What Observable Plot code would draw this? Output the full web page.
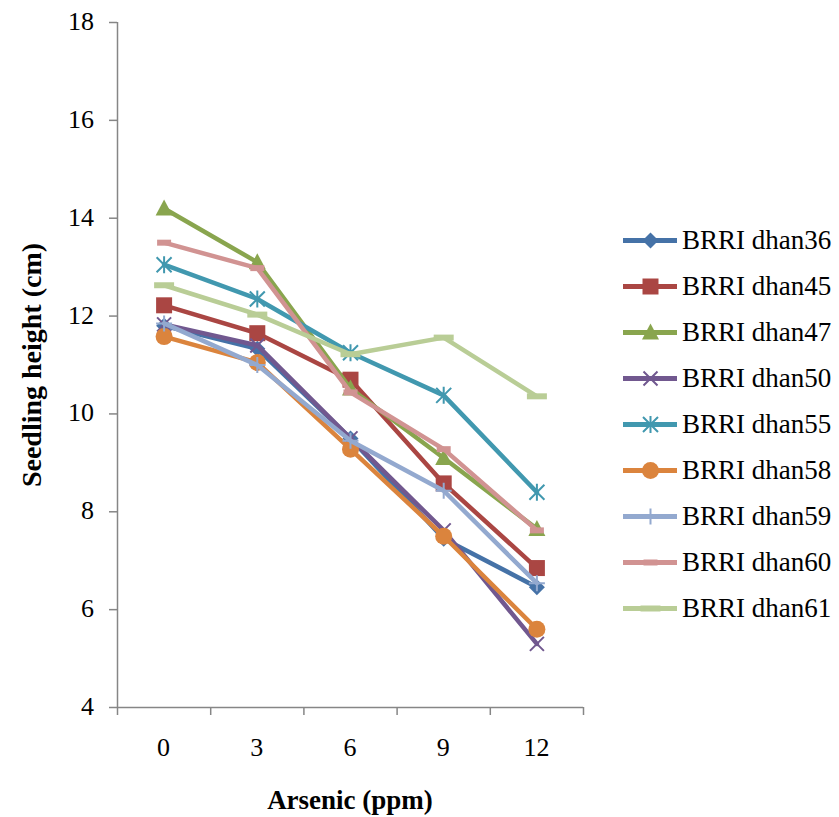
<!DOCTYPE html>
<html>
<head>
<meta charset="utf-8">
<script src="https://cdn.jsdelivr.net/npm/d3@7"></script>
<script src="https://cdn.jsdelivr.net/npm/@observablehq/plot@0.6"></script>
<style>
  html, body { margin: 0; padding: 0; background: #fff; font-family: 'Liberation Serif'; }
  #wrap { position: relative; width: 839px; height: 817px; font-family: 'Liberation Serif'; color: #000; }
  #legend { position: absolute; left: 600px; top: 210px; }
  .lbl { position: absolute; white-space: nowrap; line-height: 30px; height: 30px; font-family: 'Liberation Serif'; }
  .tick { font-size: 26px; }
  .legendLbl { font-size: 27px; }
  .title { font-weight: bold; }
</style>
</head>
<body>
<div id="wrap"><div id="chart"></div><div id="legend"></div></div>
<script>
// ---- data ----
const categories = [0, 3, 6, 9, 12];
const seriesNames = ["BRRI dhan36", "BRRI dhan45", "BRRI dhan47", "BRRI dhan50", "BRRI dhan55",
                     "BRRI dhan58", "BRRI dhan59", "BRRI dhan60", "BRRI dhan61"];
const dhan36 = [11.80, 11.33, 9.50, 7.45, 6.46];
const dhan45 = [12.22, 11.65, 10.70, 8.58, 6.85];
const dhan47 = [14.20, 13.10, 10.52, 9.10, 7.65];
const dhan50 = [11.83, 11.40, 9.50, 7.62, 5.30];
const dhan55 = [13.05, 12.35, 11.25, 10.38, 8.40];
const dhan58 = [11.58, 11.05, 9.28, 7.50, 5.60];
const dhan59 = [11.85, 11.00, 9.45, 8.43, 6.54];
const dhan60 = [13.50, 12.98, 10.44, 9.28, 7.62];
const dhan61 = [12.63, 12.03, 11.22, 11.56, 10.36];
const seriesValues = [dhan36, dhan45, dhan47, dhan50, dhan55, dhan58, dhan59, dhan60, dhan61];
const yTicks = [4, 6, 8, 10, 12, 14, 16, 18];
const xTitle = "Arsenic (ppm)";
const yTitle = "Seedling height (cm)";

// ---- styles ----
const seriesColors = ["#4572A7", "#AA4643", "#89A54E", "#71588F", "#4198AF",
                      "#DB843D", "#93A9CF", "#D19392", "#B9CD96"];
const markerKinds = ["diamond", "square", "triangle", "times", "asterisk",
                     "circle", "plus", "dashShort", "dashLong"];
const axisColor = "#868686";

const symbols = {
  diamond: {draw(c) { const r = 8; c.moveTo(0, -r); c.lineTo(r, 0); c.lineTo(0, r); c.lineTo(-r, 0); c.closePath(); }},
  square: {draw(c) { const r = 8; c.rect(-r, -r, 2 * r, 2 * r); }},
  triangle: {draw(c) { c.moveTo(0, -9); c.lineTo(8.5, 7); c.lineTo(-8.5, 7); c.closePath(); }},
  circle: {draw(c) { const r = 8.5; c.moveTo(r, 0); c.arc(0, 0, r, 0, 2 * Math.PI); }},
  times: {draw(c) { const r = 7; c.moveTo(-r, -r); c.lineTo(r, r); c.moveTo(-r, r); c.lineTo(r, -r); }},
  asterisk: {draw(c) { const r = 7.5; c.moveTo(-r, -r); c.lineTo(r, r); c.moveTo(-r, r); c.lineTo(r, -r); c.moveTo(0, -r - 1); c.lineTo(0, r + 1); }},
  plus: {draw(c) { const r = 8; c.moveTo(0, -r); c.lineTo(0, r); c.moveTo(-r, 0); c.lineTo(r, 0); }},
  dashShort: {draw(c) { c.rect(-7, -3, 14, 6); }},
  dashLong: {draw(c) { c.rect(-10, -3, 20, 6); }}
};
const strokeKinds = new Set(["times", "asterisk", "plus"]);

const rows = [];
seriesNames.forEach((name, i) => {
  categories.forEach((c, j) => rows.push({series: name, idx: i, x: c, y: seriesValues[i][j]}));
});

const step = categories[1] - categories[0];
const xDomain = [categories[0] - step / 2, categories[categories.length - 1] + step / 2];
const edges = [...categories.map(c => c - step / 2), xDomain[1]];

const seriesMarks = [];
seriesNames.forEach((name, i) => {
  const data = rows.filter(r => r.idx === i);
  const col = seriesColors[i];
  const kind = markerKinds[i];
  seriesMarks.push(Plot.line(data, {x: "x", y: "y", stroke: col, strokeWidth: 4.5, strokeLinejoin: "round", strokeLinecap: "round"}));
  if (strokeKinds.has(kind)) {
    seriesMarks.push(Plot.dot(data, {x: "x", y: "y", symbol: symbols[kind], r: 8, fill: "none", stroke: col, strokeWidth: 2}));
  } else {
    seriesMarks.push(Plot.dot(data, {x: "x", y: "y", symbol: symbols[kind], r: 8, fill: col, stroke: "none"}));
  }
});

const chart = Plot.plot({
  width: 839,
  height: 817,
  marginLeft: 117,
  marginRight: 256,
  marginTop: 22,
  marginBottom: 110,
  style: {background: "#fff", overflow: "visible"},
  x: {domain: xDomain},
  y: {domain: [yTicks[0], yTicks[yTicks.length - 1]]},
  marks: [
    Plot.axisY({ticks: yTicks, tickSize: 8, tickFormat: () => "", stroke: axisColor, strokeWidth: 1.5, label: null}),
    Plot.axisX({ticks: edges, tickSize: 8, tickFormat: () => "", stroke: axisColor, strokeWidth: 1.5, label: null}),
    Plot.ruleX([xDomain[0]], {stroke: axisColor, strokeWidth: 1.5}),
    Plot.ruleY([yTicks[0]], {stroke: axisColor, strokeWidth: 1.5}),
    ...seriesMarks
  ]
});
const wrap = document.getElementById("wrap");
document.getElementById("chart").appendChild(chart);

// ---- text labels placed with the chart's own scales ----
const xs = chart.scale("x"), ys = chart.scale("y");
function addLabel(text, cls, styles) {
  const div = document.createElement("div");
  div.className = "lbl " + cls;
  div.textContent = text;
  Object.assign(div.style, styles);
  wrap.appendChild(div);
  return div;
}
const yAxisPx = xs.apply(xDomain[0]);
const xAxisPx = ys.apply(yTicks[0]);
yTicks.forEach(v => addLabel(String(v), "tick", {
  left: "0px", width: (yAxisPx - 8 - 15) + "px", textAlign: "right", top: (ys.apply(v) - 15) + "px"
}));
categories.forEach(c => addLabel(String(c), "tick", {
  left: (xs.apply(c) - 40) + "px", width: "80px", textAlign: "center", top: (xAxisPx + 26) + "px"
}));
const frameMidX = (xs.apply(xDomain[0]) + xs.apply(xDomain[1])) / 2;
const frameMidY = (ys.apply(yTicks[0]) + ys.apply(yTicks[yTicks.length - 1])) / 2;
addLabel(xTitle, "title", {
  fontSize: "27px", left: (frameMidX - 150) + "px", width: "300px", textAlign: "center", top: (xAxisPx + 78) + "px"
});
addLabel(yTitle, "title", {
  fontSize: "28px", left: (yAxisPx - 85 - 150) + "px", width: "300px", textAlign: "center",
  top: (frameMidY - 15) + "px", transform: "rotate(-90deg)", transformOrigin: "50% 50%"
});

// ---- legend swatches ----
const legendRange = [27, 400];
const legendMarks = [];
seriesNames.forEach((name, i) => {
  const kind = markerKinds[i];
  const col = seriesColors[i];
  legendMarks.push(Plot.ruleY([name], {y: d => d, x1: 23, x2: 77, stroke: col, strokeWidth: 5}));
  if (strokeKinds.has(kind)) {
    legendMarks.push(Plot.dot([name], {y: d => d, x: () => 50, symbol: symbols[kind], r: 8, fill: "none", stroke: col, strokeWidth: 2}));
  } else {
    legendMarks.push(Plot.dot([name], {y: d => d, x: () => 50, symbol: symbols[kind], r: 8, fill: col, stroke: "none"}));
  }
});
const legend = Plot.plot({
  width: 82,
  height: 430,
  margin: 0,
  style: {background: "transparent", overflow: "visible"},
  x: {type: "identity", axis: null},
  y: {type: "point", domain: seriesNames, range: legendRange, padding: 0, axis: null},
  marks: legendMarks
});
document.getElementById("legend").appendChild(legend);
const ls = legend.scale("y");
seriesNames.forEach(name => addLabel(name, "legendLbl", {left: "682px", top: (210 + ls.apply(name) - 15) + "px"}));
</script>
</body>
</html>
